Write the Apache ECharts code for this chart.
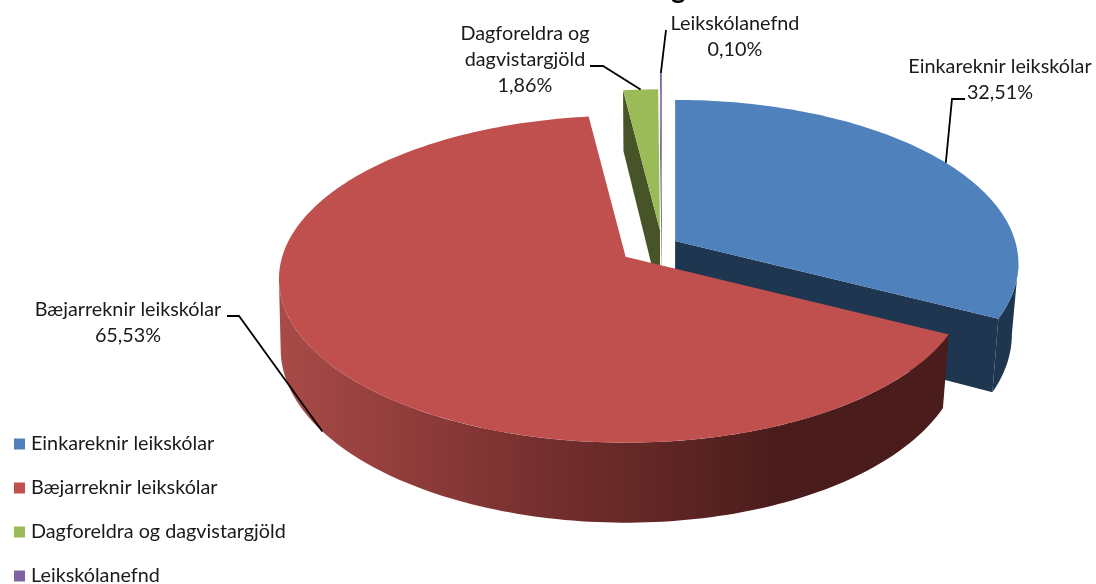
<!DOCTYPE html>
<html lang="en">
<head>
    <meta charset="UTF-8">
    <title>Leikskólar</title>
    <script src="https://cdn.jsdelivr.net/npm/echarts@6/dist/echarts.min.js"></script>
    <style type="text/css">
        *{margin:0;padding:0;}
        #main{width:1096px;height:584px;background:#fff;}
    </style>
</head>
<body>
<div id="main"></div>
<script type="text/javascript">
    // values
    var categories = ['Einkareknir leikskólar', 'Bæjarreknir leikskólar', 'Dagforeldra og dagvistargjöld', 'Leikskólanefnd'];
    var shares = [32.51, 65.53, 1.86, 0.10];
    var percentLabels = ['32,51%', '65,53%', '1,86%', '0,10%'];

    var topColors = ['#4F81BD', '#C0504D', '#9BBB59', '#8064A2'];
    var sideColors = ['#1F3650', null, '#465427', '#5a5a5a'];
    var explode = [0.045, 0.13, 0.09, 0.19];
    var layers = [1, 4, 2, 3];

    // the fake 3d view: ellipse size, tilt perspective, thickness
    var cx = 662, cy = 244.7, rx = 341.7, ry = 160.4, persp = 0.1376, sidePersp = 0.005, depth = 69;

    function project(theta, low) {
        var u = Math.sin(theta);
        var v = -Math.cos(theta);
        var w = 1 / (1 - persp * v);
        // bottom rim is pulled in a bit, more on the right than on the left
        var s = low ? 0.988 - 0.007 * u : 1;
        return [rx * u * w * s * (1 - sidePersp * u), ry * v * w + (low ? depth * w : 0)];
    }

    var starts = [];
    shares.reduce(function (sum, v, i) { starts[i] = sum; return sum + v; }, 0);

    function apexOf(i) {
        var mid = (starts[i] + shares[i] / 2) / 100 * Math.PI * 2;
        return [
            cx + rx * Math.sin(mid) * explode[i],
            cy - ry * Math.cos(mid) * explode[i]
        ];
    }

    function pointAt(i, percent, low) {
        var a = apexOf(i);
        var p = project(percent / 100 * Math.PI * 2, low);
        return [a[0] + p[0], a[1] + p[1]];
    }

    function arcPoints(i, from, to, low) {
        var pts = [];
        var n = Math.max(4, Math.ceil((to - from) * 3));
        for (var k = 0; k <= n; k++) {
            pts.push(pointAt(i, from + (to - from) * k / n, low));
        }
        return pts;
    }

    // only the front of the rim is seen, it runs between the two silhouette angles
    var frontFrom = Math.acos(-persp) / (Math.PI * 2) * 100;
    var frontTo = 100 - frontFrom;

    function renderSlice(i) {
        return function (params, api) {
            var a = apexOf(i);
            var aLow = [a[0], a[1] + depth];
            var end = starts[i] + shares[i];
            var top = arcPoints(i, starts[i], end, false);
            var bottom = arcPoints(i, starts[i], end, true);
            var wallFill = sideColors[i];
            if (!wallFill) {
                wallFill = new echarts.graphic.LinearGradient(278, 0, 947, 0, [
                    {offset: 0, color: '#A94B48'},
                    {offset: 0.2, color: '#8F3C3A'},
                    {offset: 0.42, color: '#722E2D'},
                    {offset: 0.63, color: '#5A2322'},
                    {offset: 0.74, color: '#4A1D1C'},
                    {offset: 1, color: '#4A1D1C'}
                ], true);
            }
            var children = [];
            var wallFrom = Math.max(starts[i], frontFrom);
            var wallTo = Math.min(end, frontTo);
            if (wallTo > wallFrom) {
                children.push({
                    type: 'polygon',
                    shape: {points: arcPoints(i, wallFrom, wallTo, false).concat(arcPoints(i, wallFrom, wallTo, true).reverse())},
                    style: {fill: wallFill}
                });
            }
            // cut faces, only the ones that look at the viewer
            if (i === 0) {
                children.push({
                    type: 'polygon',
                    shape: {points: [a, top[top.length - 1], bottom[bottom.length - 1], aLow]},
                    style: {fill: sideColors[0]}
                });
            }
            if (i === 2 || i === 3) {
                children.push({
                    type: 'polygon',
                    shape: {points: [a, top[0], bottom[0], aLow]},
                    style: {fill: sideColors[i]}
                });
            }
            children.push({
                type: 'polygon',
                shape: {points: [a].concat(top)},
                style: {fill: topColors[i]}
            });
            return {type: 'group', children: children};
        };
    }

    // label blocks, the leader always ends on the middle of the slice's rim
    var labelBoxes = [
        {text: categories[0] + '\n' + percentLabels[0], x: 1000, y: 80, knee: [952, 99], from: [965, 99], low: false},
        {text: categories[1] + '\n' + percentLabels[1], x: 128, y: 323, knee: [239, 316], from: [227, 316], low: true},
        {text: 'Dagforeldra og\ndagvistargjöld\n' + percentLabels[2], x: 525, y: 60, knee: [603, 66], from: [590, 66], low: false},
        {text: categories[3] + '\n' + percentLabels[3], x: 735, y: 37, knee: null, from: [666, 30], low: false}
    ];

    function renderLabels(params, api) {
        var i = api.value(0);
        var box = labelBoxes[i];
        var end = pointAt(i, starts[i] + shares[i] / 2, box.low);
        var line = box.knee ? [box.from, box.knee, end] : [box.from, end];
        return {
            type: 'group',
            children: [{
                type: 'polyline',
                shape: {points: line},
                style: {fill: null, stroke: '#000', lineWidth: 1.8}
            }, {
                type: 'text',
                style: {
                    x: box.x, y: box.y, text: box.text,
                    align: 'center', verticalAlign: 'middle',
                    fill: '#1a1a1a', fontSize: 19.8, lineHeight: 26,
                    fontFamily: 'Lato'
                }
            }]
        };
    }

    var series = categories.map(function (name, i) {
        return {
            name: name,
            type: 'custom',
            coordinateSystem: 'none',
            z: layers[i],
            silent: true,
            itemStyle: {color: topColors[i]},
            renderItem: renderSlice(i),
            data: [[shares[i]]]
        };
    });
    series.push({
        type: 'custom',
        name: 'labels',
        coordinateSystem: 'none',
        z: 10,
        silent: true,
        renderItem: renderLabels,
        data: shares.map(function (v, i) { return [i, v]; })
    });

    var myChart = echarts.init(document.getElementById('main'), null, {renderer: 'canvas'});
    myChart.setOption({
        animation: false,
        backgroundColor: '#fff',
        // the title is cut by the top edge in the source, only this bit of it shows
        title: {
            text: 'g',
            left: 671,
            top: -25,
            padding: 0,
            textStyle: {fontFamily: 'Lato', fontWeight: 'bold', fontSize: 28, color: '#000'}
        },
        legend: {
            orient: 'vertical',
            left: 14,
            top: 434,
            height: 200,
            padding: 0,
            icon: 'rect',
            itemWidth: 11,
            itemHeight: 11,
            itemGap: 24,
            data: categories,
            selectedMode: false,
            textStyle: {
                color: '#1a1a1a',
                fontSize: 19.8,
                fontFamily: 'Lato',
                padding: [0, 0, 0, 1],
                lineHeight: 18
            }
        },
        series: series
    });
</script>
</body>
</html>
